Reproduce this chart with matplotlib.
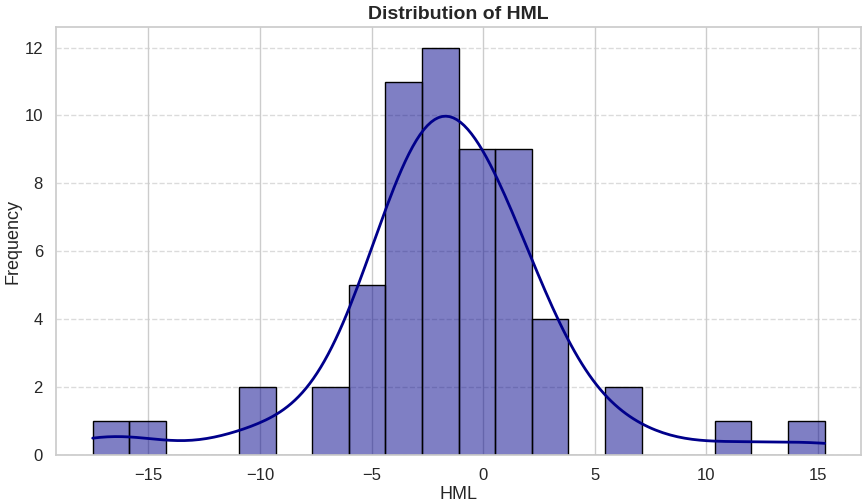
import matplotlib
matplotlib.use("Agg")
import matplotlib.pyplot as plt
import seaborn as sns
import pandas as pd

# HML monthly values (estimated from the histogram, 60 obs)
hml = [
    -17.5, -15.6,
    -10.3, -9.8,
    -7.0, -6.4,
    -5.6, -5.2, -4.9, -4.7, -4.5,
    -4.0, -3.8, -3.6, -3.4, -3.3, -3.2, -3.1, -3.0, -2.9, -2.85, -2.8,
    -2.7, -2.6, -2.4, -2.3, -2.1, -2.0, -1.9, -1.7, -1.6, -1.4, -1.3, -1.2,
    -1.05, -0.9, -0.8, -0.6, -0.5, -0.3, -0.1, 0.1, 0.4,
    0.6, 0.7, 0.8, 1.0, 1.2, 1.4, 1.6, 1.8, 2.1,
    2.4, 2.8, 3.2, 3.7,
    5.9, 6.6,
    11.2,
    15.3,
]
df = pd.DataFrame({"HML": hml})

sns.set_theme(style="whitegrid")
plt.rcParams['font.family'] = ['Liberation Sans', 'DejaVu Sans']

fig = plt.figure(figsize=(8.63, 5.03), dpi=100)
ax = sns.histplot(df["HML"], bins=20, kde=True, color="darkblue",
                  edgecolor="black", line_kws={"linewidth": 2})
ax.grid(axis="y", linestyle="--", alpha=0.7)
ax.set_title("Distribution of HML", fontsize=14, fontweight="bold")
ax.set_xlabel("HML", fontsize=13, labelpad=2)
ax.set_ylabel("Frequency", fontsize=13, labelpad=2)
ax.tick_params(labelsize=12)
fig.subplots_adjust(left=0.065, right=0.998, top=0.946, bottom=0.095)
plt.savefig("out.png")
